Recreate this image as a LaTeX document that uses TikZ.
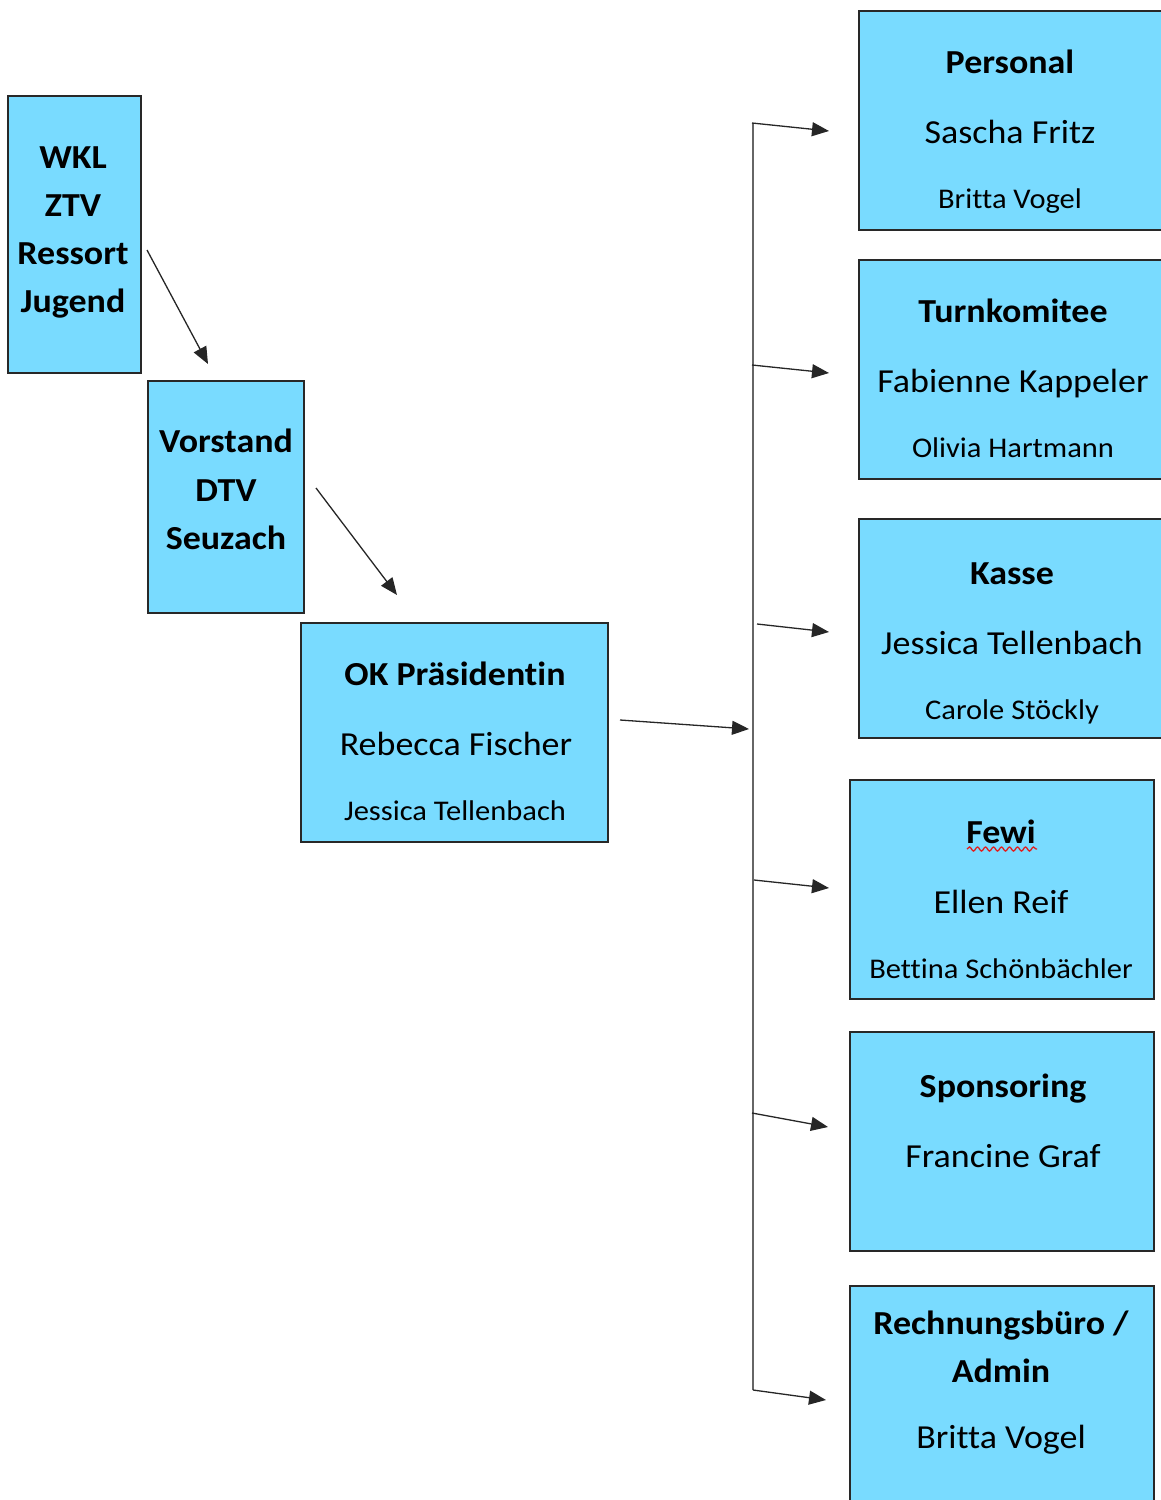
\documentclass[tikz,border=0pt]{standalone}
\usepackage{fontspec}
\setmainfont{Carlito}[Ligatures={NoCommon},FakeStretch=1.07]
\usetikzlibrary{arrows.meta,decorations.pathmorphing}
\definecolor{boxblue}{RGB}{121,219,255}
\definecolor{edgegray}{RGB}{40,40,40}
\definecolor{spellred}{RGB}{225,30,30}
\tikzset{
  box/.style={draw=edgegray, line width=2pt, fill=boxblue, rectangle, inner sep=0pt},
  ttl/.style={font=\fontsize{33.6}{40}\selectfont\bfseries, anchor=base, inner sep=0pt},
  nm/.style={font=\fontsize{33.6}{40}\selectfont, anchor=base, inner sep=0pt},
  sm/.style={font=\fontsize{28.5}{34}\selectfont, anchor=base, inner sep=0pt},
  conn/.style={draw=black!85, line width=1.3pt, -{Triangle[length=17pt,width=14pt]}},
  trunk/.style={draw=black!60, line width=1.5pt}
}
\begin{document}
\begin{tikzpicture}[x=1pt,y=-1pt]
\useasboundingbox (0,0) rectangle (1160,1500);
% boxes
\node[box, minimum width=133pt, minimum height=277pt] (wkl) at (74.5,234.5) {};
\node[box, minimum width=156pt, minimum height=232pt] (vor) at (226,497) {};
\node[box, minimum width=307pt, minimum height=219pt] (ok) at (454.5,732.5) {};
\node[box, minimum width=307pt, minimum height=219pt] (pers) at (1012.5,120.5) {};
\node[box, minimum width=307pt, minimum height=219pt] (turn) at (1012.5,369.5) {};
\node[box, minimum width=307pt, minimum height=219pt] (kasse) at (1012.5,628.5) {};
\node[box, minimum width=304pt, minimum height=219pt] (fewi) at (1002,889.5) {};
\node[box, minimum width=304pt, minimum height=219pt] (spon) at (1002,1141.5) {};
\node[box, minimum width=304pt, minimum height=219pt] (rech) at (1002,1395.5) {};
% texts left
\node[ttl] (t1) at (73,168) {WKL};
\node[ttl] (t2) at (73,216) {ZTV};
\node[ttl] (t3) at (73,264) {Ressort};
\node[ttl] (t4) at (73,312) {Jugend};
\node[ttl] (v1) at (226,452) {Vorstand};
\node[ttl] (v2) at (226,501) {DTV};
\node[ttl] (v3) at (226,549) {Seuzach};
\node[ttl] (o1) at (455,685) {OK Präsidentin};
\node[nm]  (o2) at (456,755) {Rebecca Fischer};
\node[sm]  (o3) at (455,820) {Jessica Tellenbach};
% right texts
\node[ttl] (p1) at (1010,73) {Personal};
\node[nm]  (p2) at (1010,143) {Sascha Fritz};
\node[sm]  (p3) at (1010,208) {Britta Vogel};
\node[ttl] (k1) at (1013,322) {Turnkomitee};
\node[nm]  (k2) at (1013,392) {Fabienne Kappeler};
\node[sm]  (k3) at (1013,457) {Olivia Hartmann};
\node[ttl] (c1) at (1012,584) {Kasse};
\node[nm]  (c2) at (1012,654) {Jessica Tellenbach};
\node[sm]  (c3) at (1012,719) {Carole Stöckly};
\node[ttl] (f1) at (1001,843) {Fewi};
\node[nm]  (f2) at (1001,913) {Ellen Reif};
\node[sm]  (f3) at (1001,978) {Bettina Schönbächler};
\node[ttl] (s1) at (1003,1097) {Sponsoring};
\node[nm]  (s2) at (1003,1167) {Francine Graf};
\node[ttl] (r1) at (1001,1334) {Rechnungsbüro /};
\node[ttl] (r2) at (1001,1382) {Admin};
\node[nm]  (r3) at (1001,1448) {Britta Vogel};
% spell-check underline
\coordinate (wv1) at (967,849);
\coordinate (wv2) at (1037,849);
\draw[spellred, line width=1.3pt, decorate, decoration={snake, amplitude=2pt, segment length=8pt}] (wv1) -- (wv2);
% connectors
\coordinate (a1s) at (147,250); \coordinate (a1e) at (208,364);
\coordinate (a2s) at (316,488); \coordinate (a2e) at (397,595);
\coordinate (a3s) at (620,720); \coordinate (a3e) at (749,729);
\draw[conn] (a1s) -- (a1e);
\draw[conn] (a2s) -- (a2e);
\draw[conn] (a3s) -- (a3e);
\coordinate (trtop) at (753,123);
\coordinate (trbot) at (753,1390);
\draw[trunk] (trtop) -- (trbot);
\coordinate (b1s) at (752,123);  \coordinate (b1e) at (829,131);
\coordinate (b2s) at (752,365);  \coordinate (b2e) at (829,373);
\coordinate (b3s) at (757,624);  \coordinate (b3e) at (829,632);
\coordinate (b4s) at (754,880);  \coordinate (b4e) at (829,888);
\coordinate (b5s) at (752,1113); \coordinate (b5e) at (828,1127);
\coordinate (b6s) at (753,1390); \coordinate (b6e) at (826,1400);
\draw[conn] (b1s) -- (b1e);
\draw[conn] (b2s) -- (b2e);
\draw[conn] (b3s) -- (b3e);
\draw[conn] (b4s) -- (b4e);
\draw[conn] (b5s) -- (b5e);
\draw[conn] (b6s) -- (b6e);
\end{tikzpicture}
\end{document}
